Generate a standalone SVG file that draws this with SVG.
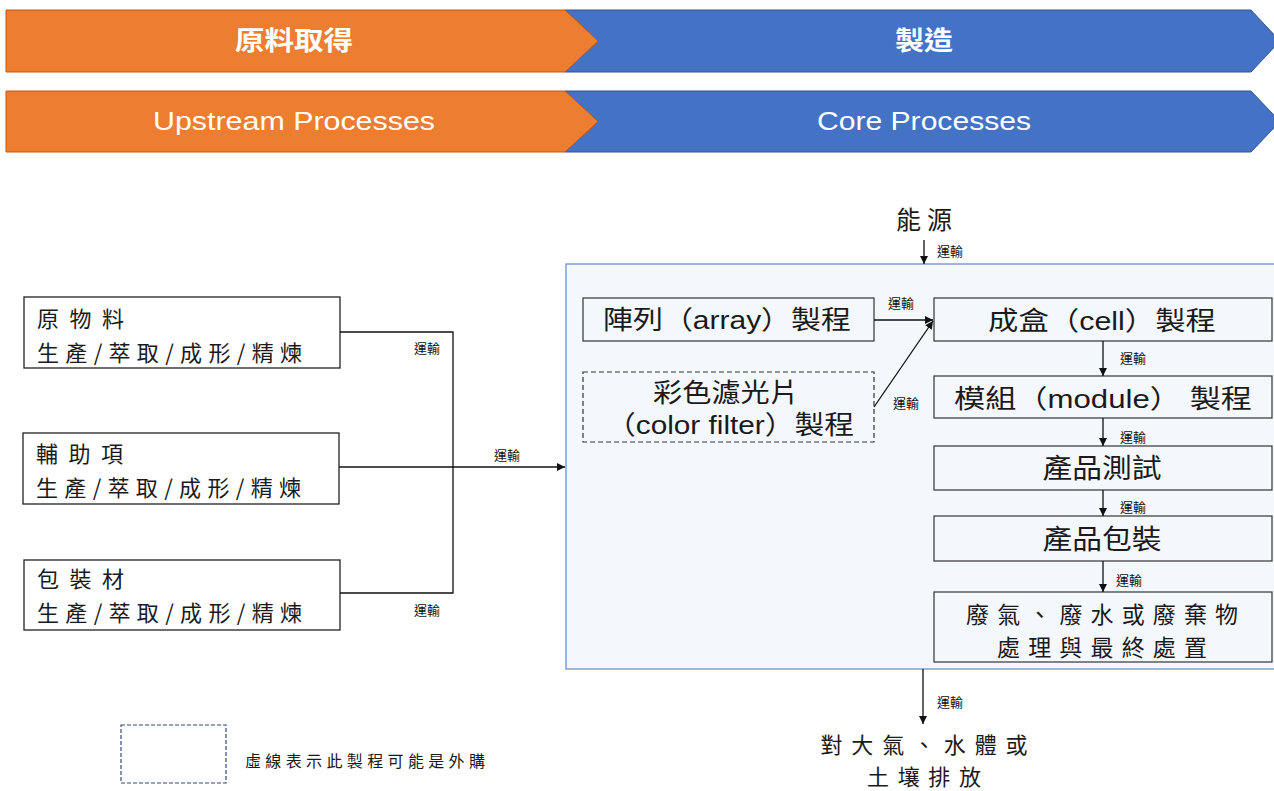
<svg xmlns="http://www.w3.org/2000/svg" width="1274" height="791" viewBox="0 0 1274 791">
<style>
.bar-o{fill:#ED7D31;stroke:#C55A11;stroke-width:1}
.bar-b{fill:#4472C4;stroke:#2F5597;stroke-width:1}
.bt{fill:#fff;font-family:"Liberation Sans","Noto Sans CJK TC",sans-serif;text-anchor:middle}
.cjk{fill:#1a1a1a;font-family:"Noto Sans CJK TC",sans-serif}
.sans{fill:#1a1a1a;font-family:"Liberation Sans","Noto Sans CJK TC",sans-serif;text-anchor:middle}
.box{fill:#fff;stroke:#222;stroke-width:1.3}
.ibox{fill:#F4F7FC;stroke:#333;stroke-width:1.2}
.lbl{fill:#111;font-family:"Noto Sans CJK TC",sans-serif;font-size:13px}
.ln{fill:none;stroke:#111;stroke-width:1.3}
</style>
<defs>
<marker id="ah" viewBox="0 0 10 10" refX="10" refY="5" markerWidth="8" markerHeight="8" orient="auto" markerUnits="userSpaceOnUse"><path d="M0,0 L10,5 L0,10 z" fill="#111"/></marker>
</defs>
<rect width="1274" height="791" fill="#fff"/>

<g id="bar1">
<polygon class="bar-b" points="565,10 1251,10 1280,41 1251,72 565,72 598,41"/>
<polygon class="bar-o" points="6,10 565,10 598,41 565,72 6,72"/>
<text class="bt" x="294" y="50" font-size="26" font-weight="bold" textLength="118" lengthAdjust="spacingAndGlyphs">原料取得</text>
<text class="bt" x="924" y="50" font-size="26" font-weight="bold" textLength="58" lengthAdjust="spacingAndGlyphs">製造</text>
</g>
<g id="bar2">
<polygon class="bar-b" points="565,91 1251,91 1280,121.5 1251,152 565,152 598,121.5"/>
<polygon class="bar-o" points="6,91 565,91 598,121.5 565,152 6,152"/>
<text class="bt" x="294" y="130" font-size="26" textLength="282" lengthAdjust="spacingAndGlyphs">Upstream Processes</text>
<text class="bt" x="924" y="130" font-size="26" textLength="214" lengthAdjust="spacingAndGlyphs">Core Processes</text>
</g>

<g id="core-area">
<rect x="566" y="264" width="720" height="405" fill="#F4F7FC" stroke="#7F9FCF" stroke-width="1.5"/>
</g>

<g id="raw-material">
<rect class="box" x="24" y="297" width="316" height="71"/>
<text class="cjk" x="37" y="327" font-size="22" textLength="87" lengthAdjust="spacing">原物料</text>
<text class="cjk" x="37" y="361" font-size="22" textLength="265" lengthAdjust="spacing">生產/萃取/成形/精煉</text>
</g>
<g id="auxiliary">
<rect class="box" x="23" y="433" width="316" height="71"/>
<text class="cjk" x="36" y="462" font-size="22" textLength="87" lengthAdjust="spacing">輔助項</text>
<text class="cjk" x="36" y="496" font-size="22" textLength="265" lengthAdjust="spacing">生產/萃取/成形/精煉</text>
</g>
<g id="packaging-material">
<rect class="box" x="24" y="560" width="316" height="70"/>
<text class="cjk" x="37" y="587" font-size="22" textLength="87" lengthAdjust="spacing">包裝材</text>
<text class="cjk" x="37" y="621" font-size="22" textLength="265" lengthAdjust="spacing">生產/萃取/成形/精煉</text>
</g>

<g id="array">
<rect class="ibox" x="583" y="298" width="291" height="43"/>
<text class="sans" x="727" y="329" font-size="26" textLength="248" lengthAdjust="spacingAndGlyphs">陣列（array）製程</text>
</g>
<g id="color-filter">
<rect class="ibox" x="583" y="372" width="291" height="70" stroke-dasharray="5,3"/>
<text class="sans" x="726" y="402" font-size="26" textLength="146" lengthAdjust="spacingAndGlyphs">彩色濾光片</text>
<text class="sans" x="730" y="434" font-size="26" textLength="248" lengthAdjust="spacingAndGlyphs">（color filter）製程</text>
</g>
<g id="cell">
<rect class="ibox" x="934" y="298" width="338" height="43"/>
<text class="sans" x="1102" y="330" font-size="26" textLength="228" lengthAdjust="spacingAndGlyphs">成盒（cell）製程</text>
</g>
<g id="module">
<rect class="ibox" x="934" y="376" width="338" height="42"/>
<text class="sans" x="1103" y="408" font-size="26" textLength="298" lengthAdjust="spacingAndGlyphs">模組（module） 製程</text>
</g>
<g id="testing">
<rect class="ibox" x="934" y="446" width="338" height="44"/>
<text class="sans" x="1102" y="478" font-size="27" textLength="119" lengthAdjust="spacingAndGlyphs">產品測試</text>
</g>
<g id="product-packaging">
<rect class="ibox" x="934" y="516" width="338" height="45"/>
<text class="sans" x="1102" y="549" font-size="27" textLength="119" lengthAdjust="spacingAndGlyphs">產品包裝</text>
</g>
<g id="waste">
<rect class="ibox" x="934" y="592" width="338" height="70"/>
<text class="cjk" x="1102" y="623" font-size="23" text-anchor="middle" textLength="272" lengthAdjust="spacing">廢氣、廢水或廢棄物</text>
<text class="cjk" x="1102" y="656" font-size="23" text-anchor="middle" textLength="210" lengthAdjust="spacing">處理與最終處置</text>
</g>

<g id="energy">
<text class="cjk" x="924" y="229" font-size="25" text-anchor="middle" textLength="56" lengthAdjust="spacing">能源</text>
</g>
<g id="emission">
<text class="cjk" x="924" y="753" font-size="22" text-anchor="middle" textLength="207" lengthAdjust="spacing">對大氣、水體或</text>
<text class="cjk" x="924" y="785" font-size="22" text-anchor="middle" textLength="114" lengthAdjust="spacing">土壤排放</text>
</g>

<g id="legend">
<rect x="121" y="725" width="105" height="58" fill="#fff" stroke="#2F4A7A" stroke-width="1.2" stroke-dasharray="4,2"/>
<text class="cjk" x="245" y="767" font-size="16" textLength="240" lengthAdjust="spacing">虛線表示此製程可能是外購</text>
</g>

<g id="connectors">
<polyline class="ln" points="340,332 453,332 453,593 340,593"/>
<line class="ln" x1="339" y1="467" x2="565" y2="467" marker-end="url(#ah)"/>
<line class="ln" x1="924" y1="240" x2="924" y2="264" marker-end="url(#ah)"/>
<line class="ln" x1="874" y1="320" x2="933" y2="320" marker-end="url(#ah)"/>
<line class="ln" x1="874" y1="407" x2="933" y2="321" marker-end="url(#ah)"/>
<line class="ln" x1="1103" y1="341" x2="1103" y2="376" marker-end="url(#ah)"/>
<line class="ln" x1="1103" y1="418" x2="1103" y2="446" marker-end="url(#ah)"/>
<line class="ln" x1="1103" y1="490" x2="1103" y2="516" marker-end="url(#ah)"/>
<line class="ln" x1="1103" y1="561" x2="1103" y2="592" marker-end="url(#ah)"/>
<line class="ln" x1="923" y1="669" x2="923" y2="724" marker-end="url(#ah)"/>
<text class="lbl" x="414" y="353">運輸</text>
<text class="lbl" x="494" y="460">運輸</text>
<text class="lbl" x="414" y="615">運輸</text>
<text class="lbl" x="937" y="256">運輸</text>
<text class="lbl" x="888" y="308">運輸</text>
<text class="lbl" x="893" y="408">運輸</text>
<text class="lbl" x="1120" y="363">運輸</text>
<text class="lbl" x="1120" y="442">運輸</text>
<text class="lbl" x="1120" y="512">運輸</text>
<text class="lbl" x="1116" y="585">運輸</text>
<text class="lbl" x="937" y="707">運輸</text>
</g>
</svg>
